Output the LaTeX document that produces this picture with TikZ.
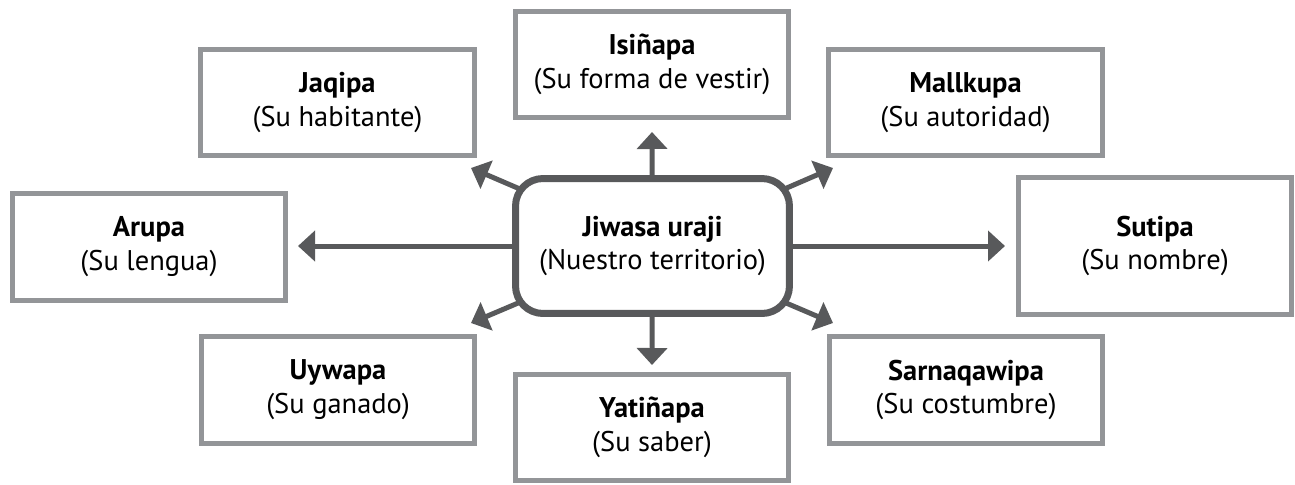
\documentclass[tikz,border=0pt]{standalone}
\usepackage{fontspec}
\setmainfont{PT Sans}
\usetikzlibrary{arrows.meta,backgrounds}
\definecolor{boxgray}{HTML}{939598}
\definecolor{hubgray}{HTML}{58595B}
\begin{document}
\begin{tikzpicture}[x=0.02cm,y=-0.02cm,
	txt/.style={align=center,inner sep=0pt,font=\fontsize{16.2}{19.3}\selectfont},
	item/.style={txt,draw=boxgray,line width=0.1cm,minimum width=5.48cm,minimum height=2.14cm},
	hub/.style={txt,draw=hubgray,line width=0.14cm,fill=white,rounded corners=0.55cm,minimum width=5.48cm,minimum height=2.7cm},
	arr/.style={draw=hubgray,line width=0.1cm,-{Triangle[length=0.34cm,width=0.6cm]}}]
	\useasboundingbox (0,0) rectangle (1295,484);

	\node[hub] (uraji) at (652.5,246) {\textbf{Jiwasa uraji}\\(Nuestro territorio)};

	\node[item] (jaqipa) at (337.5,102.5) {\textbf{Jaqipa}\\(Su habitante)};
	\node[item] (isinapa) at (652,64.5) {\textbf{Isiñapa}\\(Su forma de vestir)};
	\node[item] (mallkupa) at (965.5,102.5) {\textbf{Mallkupa}\\(Su autoridad)};
	\node[item] (arupa) at (149,247) {\textbf{Arupa}\\(Su lengua)};
	\node[item,minimum height=2.74cm] (sutipa) at (1155,246) {\textbf{Sutipa}\\(Su nombre)};
	\node[item] (uywapa) at (338,390) {\textbf{Uywapa}\\(Su ganado)};
	\node[item] (yatinapa) at (652,427.5) {\textbf{Yatiñapa}\\(Su saber)};
	\node[item] (sarnaqawipa) at (966,390) {\textbf{Sarnaqawipa}\\(Su costumbre)};

	\coordinate (tJaqipa) at (471,168);
	\coordinate (tIsinapa) at (652,132);
	\coordinate (tMallkupa) at (833,168);
	\coordinate (tArupa) at (298,246);
	\coordinate (tSutipa) at (1005,246);
	\coordinate (tUywapa) at (471,323);
	\coordinate (tYatinapa) at (652,365);
	\coordinate (tSarnaqawipa) at (833,323);

	\begin{scope}[on background layer]
		\draw[arr] (uraji.center) -- (tJaqipa);
		\draw[arr] (uraji.center) -- (tIsinapa);
		\draw[arr] (uraji.center) -- (tMallkupa);
		\draw[arr] (uraji.center) -- (tArupa);
		\draw[arr] (uraji.center) -- (tSutipa);
		\draw[arr] (uraji.center) -- (tUywapa);
		\draw[arr] (uraji.center) -- (tYatinapa);
		\draw[arr] (uraji.center) -- (tSarnaqawipa);
	\end{scope}
\end{tikzpicture}
\end{document}
